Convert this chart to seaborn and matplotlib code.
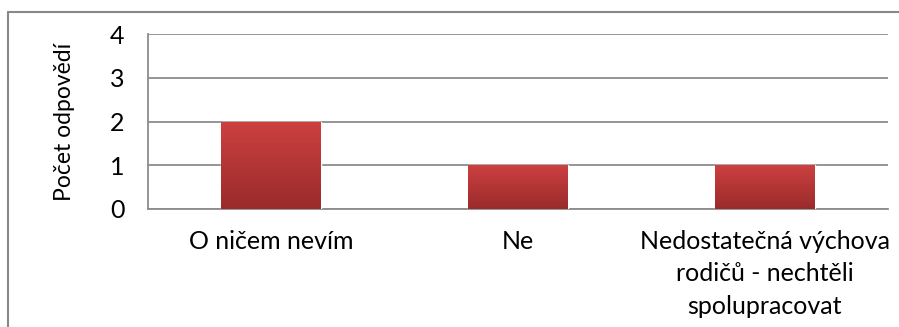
import numpy as np
import pandas as pd
import matplotlib
matplotlib.use("Agg")
import matplotlib.pyplot as plt
from matplotlib.lines import Line2D
from matplotlib.colors import LinearSegmentedColormap
import seaborn as sns

categories = ["O ničem nevím", "Ne", "Nedostatečná výchova\nrodičů - nechtěli\nspolupracovat"]
values = [2, 1, 1]
y_ticks = [0, 1, 2, 3, 4]
y_label = "Počet odpovědí"

sns.set_theme(style="white")
plt.rcParams["font.family"] = ["Lato", "DejaVu Sans"]
plt.rcParams["text.color"] = "black"
plt.rcParams["axes.labelcolor"] = "black"
plt.rcParams["xtick.color"] = "black"
plt.rcParams["ytick.color"] = "black"

df = pd.DataFrame({"cat": categories, "val": values})

fig = plt.figure(figsize=(8.99, 3.27), dpi=100)
ax = fig.add_axes([148/899, 1-209/327, (888-148)/899, (209-34)/327])

sns.barplot(data=df, x="cat", y="val", ax=ax, color="#c03a3a", width=0.405, zorder=3)

FS = 18
ax.set_ylim(0, 4)
ax.set_yticks(y_ticks)
ax.set_yticklabels([str(t) for t in y_ticks], fontsize=FS)
ax.set_xlabel("")
ax.set_ylabel(y_label, fontsize=16.5, labelpad=25)
ax.tick_params(axis="y", length=0, pad=17)
ax.tick_params(axis="x", length=0, pad=15)
for lab in ax.get_xticklabels():
    lab.set_fontsize(FS)
    lab.set_linespacing(1.5)
    lab.set_ha("center")

ax.yaxis.grid(True, color="#8c8c8c", linewidth=1.3, zorder=0)
ax.xaxis.grid(False)
for s in ["top", "right"]:
    ax.spines[s].set_visible(False)
for s in ["left", "bottom"]:
    ax.spines[s].set_color("#8c8c8c")
    ax.spines[s].set_linewidth(1.3)

# gradient fill for bars
cmap = LinearSegmentedColormap.from_list("g", ["#9a2b2b", "#cd4040"])
grad = np.linspace(0, 1, 256).reshape(-1, 1)
for p in list(ax.patches):
    x0, y0 = p.get_x(), p.get_y()
    w, h = p.get_width(), p.get_height()
    im = ax.imshow(grad, cmap=cmap, origin="lower", aspect="auto",
                   extent=[x0, x0 + w, y0, y0 + h], zorder=4)
    im.set_clip_path(p)
ax.set_xlim(-0.5, len(categories) - 0.5)
ax.set_ylim(0, 4)

# outer frame (top and left visible)
fx = 7.5/899
fy = 1 - 12/327
fig.add_artist(Line2D([fx, 1.0], [fy, fy], transform=fig.transFigure, color="#888888", linewidth=1.5))
fig.add_artist(Line2D([fx, fx], [0, fy], transform=fig.transFigure, color="#888888", linewidth=1.5))

fig.savefig("out.png", dpi=100)
